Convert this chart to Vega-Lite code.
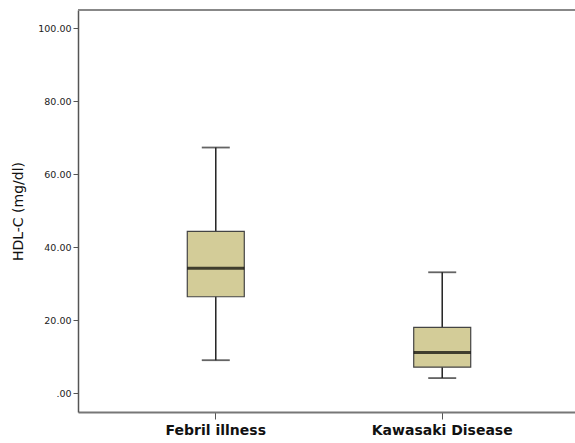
{
  "$schema": "https://vega.github.io/schema/vega-lite/v6.json",
  "width": 497,
  "height": 402,
  "padding": {"left": 78, "top": 10, "right": 0, "bottom": 31},
  "autosize": {"type": "none"},
  "background": "white",
  "config": {
    "view": {"stroke": null},
    "font": "DejaVu Sans"
  },
  "data": {
    "values": [
      {"group": "Febril illness", "min": 9.0, "q1": 26.4, "median": 34.2, "q3": 44.3, "max": 67.3},
      {"group": "Kawasaki Disease", "min": 4.1, "q1": 7.1, "median": 11.1, "q3": 18.0, "max": 33.1}
    ]
  },
  "encoding": {
    "x": {
      "field": "group",
      "type": "nominal",
      "sort": null,
      "scale": {"paddingOuter": 0.1085, "paddingInner": 0, "range": [0, 502]},
      "axis": {
        "title": null,
        "labelAngle": 0,
        "labelFontSize": 14,
        "labelFontWeight": "bold",
        "labelColor": "#111",
        "labelPadding": 4,
        "domainColor": "#777",
        "domainWidth": 2,
        "tickColor": "#555",
        "tickSize": 7,
        "tickWidth": 1
      }
    }
  },
  "layer": [
    {
      "mark": {"type": "rule", "color": "#888", "strokeWidth": 2},
      "encoding": {"x": null, "y": {"datum": 105, "type": "quantitative"}}
    },
    {
      "mark": {"type": "rule", "color": "#222", "strokeWidth": 1.5},
      "encoding": {
        "y": {
          "field": "min",
          "type": "quantitative",
          "scale": {"domain": [-5.2, 105], "nice": false, "zero": false},
          "axis": {
            "title": "HDL-C (mg/dl)",
            "titleFontSize": 14,
            "titleFontWeight": "normal",
            "titleColor": "#111",
            "titlePadding": 12,
            "values": [0, 20, 40, 60, 80, 100],
            "labelExpr": "datum.value == 0 ? '.00' : format(datum.value, '.2f')",
            "labelFontSize": 9.5,
            "labelColor": "#222",
            "grid": false,
            "domainColor": "#555",
            "domainWidth": 1.5,
            "tickColor": "#555",
            "tickSize": 5,
            "labelPadding": 2
          }
        },
        "y2": {"field": "max"}
      }
    },
    {
      "mark": {"type": "bar", "size": 57, "fill": "#D3CC98", "stroke": "#444", "strokeWidth": 1.2},
      "encoding": {
        "y": {"field": "q1", "type": "quantitative"},
        "y2": {"field": "q3"}
      }
    },
    {
      "mark": {"type": "tick", "size": 57, "thickness": 3, "color": "#000"},
      "encoding": {"y": {"field": "median", "type": "quantitative"}}
    },
    {
      "mark": {"type": "tick", "size": 28, "thickness": 1.8, "color": "#222"},
      "encoding": {"y": {"field": "min", "type": "quantitative"}}
    },
    {
      "mark": {"type": "tick", "size": 28, "thickness": 1.8, "color": "#222"},
      "encoding": {"y": {"field": "max", "type": "quantitative"}}
    }
  ]
}
